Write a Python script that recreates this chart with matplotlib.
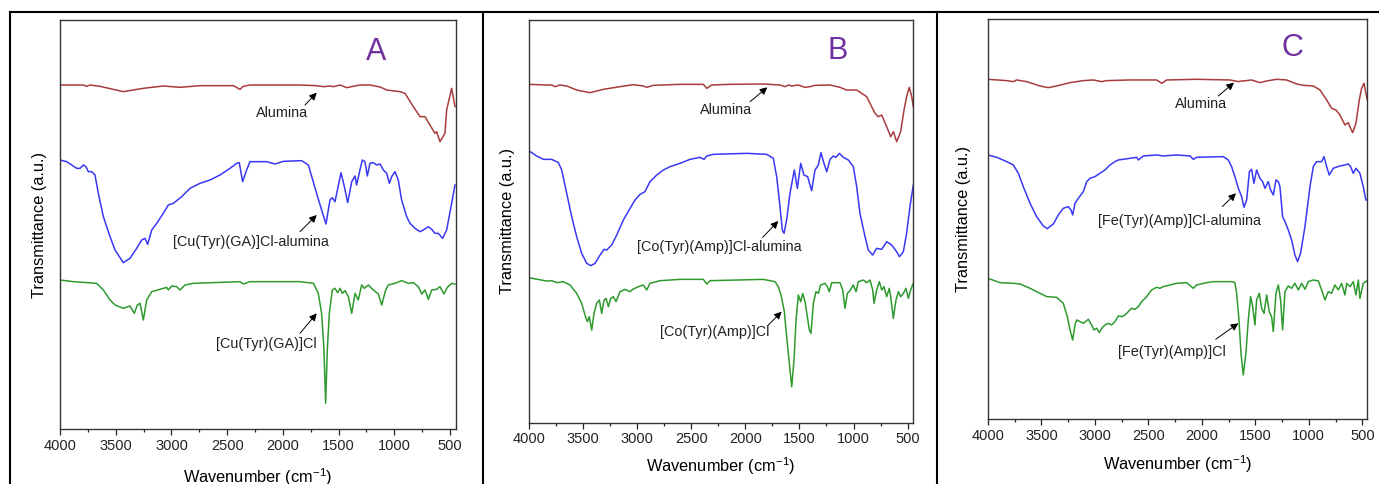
import matplotlib
matplotlib.use("Agg")
import matplotlib.pyplot as plt
from matplotlib.lines import Line2D
from matplotlib.ticker import MultipleLocator

plt.rcParams['font.family'] = ['Liberation Sans', 'DejaVu Sans']
plt.rcParams['mathtext.fontset'] = 'custom'
plt.rcParams['mathtext.rm'] = 'Liberation Sans'
plt.rcParams['mathtext.it'] = 'Liberation Sans:italic'

# ---------------- Panel A ----------------
a_alu_wn = [4000, 3791, 3761, 3731, 3641, 3432, 3252, 3073, 2923, 2744, 2444, 2385, 2355, 2295, 1846,
            1697, 1637, 1577, 1547, 1487, 1427, 1368, 1308, 1218, 1128, 1068, 949, 904, 829, 769,
            724, 680, 635, 620, 590, 545, 530, 485, 455]
a_alu_t = [1032, 1032, 1028, 1032, 1028, 1012, 1022, 1029, 1025, 1030, 1030, 1019, 1028, 1032, 1032,
           1030, 1027, 1029, 1027, 1032, 1024, 1028, 1032, 1032, 1026, 1017, 1012, 1007, 967, 937,
           937, 912, 887, 892, 862, 887, 957, 1022, 967]

a_sup_wn = [4000, 3940, 3850, 3820, 3791, 3767, 3746, 3716, 3686, 3656, 3611, 3551, 3506, 3432, 3372,
            3312, 3267, 3237, 3213, 3177, 3132, 3073, 3028, 2983, 2908, 2833, 2744, 2654, 2564, 2474,
            2415, 2391, 2361, 2325, 2295, 2145, 2070, 1996, 1831, 1771, 1697, 1652, 1613, 1577, 1556,
            1532, 1478, 1448, 1418, 1382, 1352, 1338, 1308, 1287, 1263, 1242, 1218, 1188, 1158, 1128,
            1098, 1068, 1044, 1023, 994, 964, 934, 889, 859, 814, 769, 739, 694, 664, 635,
            605, 566, 530, 485, 455]
a_sup_t = [807, 802, 782, 782, 792, 787, 772, 772, 762, 707, 637, 577, 537, 499, 512,
           542, 567, 572, 554, 597, 617, 647, 672, 677, 697, 722, 737, 747, 762, 782,
           797, 799, 742, 777, 802, 802, 795, 803, 805, 792, 707, 657, 615, 687, 694,
           682, 769, 727, 679, 742, 759, 732, 777, 807, 802, 759, 797, 799, 792, 795,
           777, 767, 737, 757, 772, 747, 687, 637, 617, 602, 592, 597, 607, 599, 587,
           587, 572, 597, 677, 732]

a_cpx_wn = [4000, 3880, 3671, 3611, 3551, 3506, 3432, 3372, 3333, 3306, 3282, 3252, 3222, 3177, 3103,
            3043, 3028, 2998, 2953, 2923, 2878, 2803, 2385, 2355, 2295, 1846, 1726, 1682, 1652, 1631,
            1616, 1601, 1583, 1556, 1532, 1508, 1487, 1466, 1442, 1412, 1382, 1352, 1323, 1293, 1269,
            1233, 1188, 1143, 1113, 1077, 1053, 994, 934, 874, 829, 784, 754, 724, 694, 664,
            620, 590, 554, 524, 485, 455]
a_cpx_t = [447, 442, 437, 417, 387, 372, 362, 369, 347, 372, 377, 327, 387, 412, 419,
           425, 417, 429, 427, 417, 432, 437, 442, 435, 442, 442, 437, 407, 347, 237,
           77, 237, 347, 417, 422, 409, 422, 407, 415, 397, 347, 407, 387, 432, 422,
           432, 417, 405, 372, 417, 432, 437, 445, 437, 439, 427, 405, 417, 389, 417,
           419, 427, 405, 425, 437, 435]

# ---------------- Panel B ----------------
b_alu_wn = [4000, 3834, 3788, 3757, 3711, 3649, 3557, 3434, 3311, 3157, 3034, 2941, 2910, 2849, 2603,
            2387, 2356, 2310, 2141, 1833, 1679, 1633, 1602, 1571, 1510, 1448, 1402, 1356, 1217, 1125,
            1064, 971, 879, 802, 771, 740, 694, 657, 632, 602, 565, 534, 510, 485, 463, 448]
b_alu_t = [1015, 1013, 1013, 1008, 1013, 1010, 998, 990, 1000, 1008, 1014, 1010, 1006, 1012, 1015,
           1015, 1003, 1013, 1015, 1016, 1013, 1008, 1013, 1010, 1013, 1006, 1008, 1012, 1013, 1006,
           998, 998, 978, 928, 918, 923, 888, 858, 873, 843, 873, 938, 978, 1006, 978, 948]

b_sup_wn = [4000, 3926, 3865, 3788, 3726, 3695, 3649, 3603, 3557, 3511, 3464, 3427, 3387, 3341, 3304,
            3280, 3234, 3187, 3126, 3064, 3018, 2972, 2926, 2880, 2818, 2756, 2695, 2603, 2510, 2418,
            2381, 2356, 2295, 1987, 1802, 1741, 1710, 1679, 1658, 1642, 1618, 1587, 1547, 1519, 1488,
            1458, 1424, 1387, 1356, 1325, 1301, 1273, 1248, 1217, 1187, 1162, 1131, 1094, 1048, 1002,
            971, 941, 894, 864, 823, 787, 740, 694, 648, 602, 577, 540, 510, 479, 448]
b_sup_t = [816, 800, 790, 790, 780, 758, 688, 618, 558, 508, 478, 471, 478, 503, 520,
           518, 533, 563, 608, 643, 668, 685, 693, 723, 743, 758, 768, 778, 790, 796,
           790, 800, 805, 808, 805, 793, 738, 648, 578, 568, 608, 688, 758, 703, 778,
           743, 738, 696, 758, 773, 810, 778, 753, 790, 800, 796, 808, 796, 788, 768,
           708, 628, 558, 518, 503, 523, 520, 543, 533, 513, 498, 513, 568, 648, 713]

b_cpx_wn = [4000, 3834, 3788, 3741, 3680, 3618, 3557, 3511, 3480, 3458, 3440, 3418, 3397, 3372, 3347,
            3326, 3304, 3286, 3264, 3243, 3218, 3194, 3157, 3110, 3064, 3040, 2987, 2941, 2910, 2880,
            2787, 2603, 2387, 2356, 2326, 1833, 1725, 1695, 1670, 1639, 1618, 1593, 1571, 1550, 1531,
            1510, 1488, 1470, 1448, 1427, 1408, 1393, 1371, 1347, 1325, 1304, 1264, 1242, 1224, 1202,
            1125, 1100, 1079, 1057, 1033, 1002, 977, 956, 910, 879, 848, 823, 811, 787, 762,
            740, 719, 694, 670, 657, 633, 608, 586, 565, 540, 516, 494, 473, 448]
b_cpx_t = [435, 425, 426, 420, 423, 413, 388, 358, 323, 303, 318, 278, 328, 358, 368,
           328, 368, 373, 348, 373, 378, 363, 393, 400, 393, 400, 408, 413, 398, 418,
           426, 430, 430, 416, 426, 430, 423, 408, 383, 333, 258, 178, 108, 188, 308,
           383, 363, 388, 363, 318, 278, 268, 358, 393, 388, 413, 418, 408, 393, 420,
           420, 398, 343, 388, 396, 413, 393, 423, 428, 420, 428, 398, 358, 398, 423,
           398, 408, 378, 403, 378, 313, 368, 393, 378, 388, 403, 373, 398, 418]

# ---------------- Panel C ----------------
c_alu_wn = [4000, 3825, 3763, 3732, 3638, 3514, 3436, 3358, 3233, 3109, 3015, 2937, 2890, 2672, 2423,
            2376, 2329, 2049, 1737, 1659, 1628, 1581, 1535, 1457, 1394, 1301, 1207, 1114, 1052, 958,
            896, 833, 787, 746, 709, 662, 631, 609, 590, 559, 528, 506, 484, 466, 453]
c_alu_t = [1020, 1016, 1013, 1018, 1013, 1000, 995, 1000, 1010, 1016, 1018, 1013, 1016, 1018, 1018,
           1008, 1018, 1020, 1018, 1013, 1015, 1016, 1018, 1010, 1015, 1020, 1018, 1006, 1002, 1000,
           988, 958, 933, 928, 913, 883, 890, 873, 860, 888, 958, 993, 1008, 978, 958]

c_sup_wn = [4000, 3919, 3825, 3763, 3716, 3670, 3607, 3545, 3483, 3445, 3389, 3342, 3296, 3249, 3224,
            3208, 3187, 3155, 3109, 3077, 3046, 3000, 2953, 2906, 2859, 2813, 2781, 2735, 2672, 2610,
            2594, 2548, 2423, 2361, 2236, 2111, 2080, 2049, 1800, 1753, 1722, 1691, 1659, 1628, 1606,
            1581, 1556, 1535, 1513, 1488, 1457, 1432, 1410, 1379, 1357, 1332, 1307, 1285, 1270, 1245,
            1223, 1192, 1161, 1130, 1105, 1077, 1036, 989, 958, 927, 880, 858, 833, 809, 771,
            709, 662, 631, 609, 584, 559, 522, 491, 466, 453]
c_sup_t = [793, 786, 773, 763, 738, 698, 648, 608, 580, 572, 586, 613, 633, 638, 628,
           613, 648, 663, 683, 713, 723, 728, 738, 748, 763, 773, 778, 780, 783, 786,
           778, 790, 793, 790, 793, 790, 780, 786, 788, 778, 758, 728, 693, 668, 636,
           658, 743, 750, 708, 748, 723, 713, 693, 713, 688, 673, 718, 713, 698, 608,
           593, 568, 538, 493, 473, 498, 578, 698, 758, 773, 773, 788, 758, 733, 753,
           760, 763, 766, 758, 738, 753, 738, 698, 658, 658]

c_cpx_wn = [4000, 3888, 3763, 3701, 3607, 3514, 3451, 3358, 3296, 3258, 3233, 3208, 3187, 3171, 3140,
            3109, 3062, 3031, 3009, 2984, 2959, 2937, 2906, 2875, 2844, 2813, 2781, 2750, 2719, 2688,
            2657, 2626, 2594, 2563, 2516, 2470, 2423, 2392, 2361, 2236, 2142, 2080, 2049, 1955, 1893,
            1800, 1722, 1691, 1675, 1653, 1634, 1613, 1588, 1566, 1544, 1525, 1504, 1488, 1463, 1441,
            1419, 1394, 1370, 1348, 1332, 1307, 1285, 1264, 1245, 1223, 1192, 1161, 1130, 1098, 1067,
            1036, 1005, 958, 911, 880, 849, 818, 787, 756, 724, 693, 662, 646, 615, 584,
            559, 537, 522, 491, 453]
c_cpx_t = [423, 410, 408, 406, 393, 378, 368, 366, 348, 308, 268, 238, 283, 298, 293,
           288, 300, 283, 268, 273, 260, 273, 283, 288, 283, 293, 310, 308, 313, 323,
           333, 330, 338, 353, 368, 388, 396, 393, 398, 408, 410, 393, 403, 410, 413,
           413, 413, 410, 378, 298, 198, 133, 198, 298, 368, 338, 283, 358, 378, 333,
           318, 373, 323, 308, 263, 378, 403, 358, 268, 383, 400, 393, 408, 388, 408,
           390, 413, 418, 415, 388, 358, 383, 378, 403, 388, 408, 373, 408, 398, 413,
           373, 418, 363, 408, 416]

labels_A = ["Alumina", "[Cu(Tyr)(GA)]Cl-alumina", "[Cu(Tyr)(GA)]Cl"]
labels_B = ["Alumina", "[Co(Tyr)(Amp)]Cl-alumina", "[Co(Tyr)(Amp)]Cl"]
labels_C = ["Alumina", "[Fe(Tyr)(Amp)]Cl-alumina", "[Fe(Tyr)(Amp)]Cl"]
panel_letters = ["A", "B", "C"]

RED = '#A83C3C'
BLUE = '#3838F5'
GREEN = '#2E9A2E'
PURPLE = '#7030A0'

W, H = 1380, 484
fig = plt.figure(figsize=(W / 100, H / 100), dpi=100)
fig.patch.set_facecolor('white')


def px_axes(l, t, r, b):
    return [l / W, (H - b) / H, (r - l) / W, (b - t) / H]


panels = [
    dict(rect=px_axes(60, 20, 456, 429), xlim=(4000, 446), ylim=(0, 1227),
         curves=[(a_alu_wn, a_alu_t, RED), (a_sup_wn, a_sup_t, BLUE), (a_cpx_wn, a_cpx_t, GREEN)],
         labels=labels_A,
         texts=[(2011, 948), (2289, 562), (2145, 255)],
         arrows=[((1801, 972), (1696, 1009)), ((1846, 592), (1696, 642)), ((1846, 287), (1696, 347))],
         letter=(1164, 1132), xlpad=9.5, ylpad=9.5),
    dict(rect=px_axes(528.7, 20, 913, 422.7), xlim=(4000, 451), ylim=(0, 1208),
         curves=[(b_alu_wn, b_alu_t, RED), (b_sup_wn, b_sup_t, BLUE), (b_cpx_wn, b_cpx_t, GREEN)],
         labels=labels_B,
         texts=[(2181, 938), (2242, 526), (2286, 271)],
         arrows=[((1956, 963), (1796, 1006)), ((1839, 556), (1695, 605)), ((1787, 293), (1664, 333))],
         letter=(1147, 1115), xlpad=6.5, ylpad=10),
    dict(rect=px_axes(988, 19.3, 1367.3, 419.3), xlim=(4000, 453), ylim=(0, 1200),
         curves=[(c_alu_wn, c_alu_t, RED), (c_sup_wn, c_sup_t, BLUE), (c_cpx_wn, c_cpx_t, GREEN)],
         labels=labels_C,
         texts=[(2012, 945), (2205, 596), (2276, 201)],
         arrows=[((1846, 970), (1700, 1010)), ((1809, 638), (1681, 678)), ((1871, 240), (1659, 288))],
         letter=(1154, 1113), xlpad=7.5, ylpad=12),
]

for p, letter in zip(panels, panel_letters):
    ax = fig.add_axes(p['rect'])
    for wn, t, col in p['curves']:
        ax.plot(wn, t, color=col, lw=1.1)
    ax.set_xlim(*p['xlim'])
    ax.set_ylim(*p['ylim'])
    ax.set_yticks([])
    ax.xaxis.set_major_locator(MultipleLocator(500))
    ax.xaxis.set_minor_locator(MultipleLocator(250))
    ax.tick_params(axis='x', which='major', direction='out', length=4, width=0.9,
                   labelsize=10.5, pad=3, colors='#222222')
    ax.tick_params(axis='x', which='minor', direction='out', length=2.5, width=0.9, colors='#222222')
    for s in ax.spines.values():
        s.set_linewidth(1.0)
        s.set_color('#333333')
    ax.set_xlabel('Wavenumber (cm$\\mathregular{^{-1}}$)', fontsize=11.8, labelpad=p['xlpad'])
    ax.set_ylabel('Transmittance (a.u.)', fontsize=11.8, labelpad=p['ylpad'])
    for (tx, ty), lab in zip(p['texts'], p['labels']):
        ax.text(tx, ty, lab, fontsize=10.4, ha='center', va='center', color='#222222')
    for tail, tip in p['arrows']:
        ax.annotate('', xy=tip, xytext=tail,
                    arrowprops=dict(arrowstyle='-|>', color='black', lw=0.7,
                                    mutation_scale=11, shrinkA=0, shrinkB=0))
    ax.text(p['letter'][0], p['letter'][1], letter, fontsize=22, color=PURPLE,
            ha='center', va='center')

# table-like frame lines
def fline(x0, y0, x1, y1, lw=1.5):
    fig.add_artist(Line2D([x0 / W, x1 / W], [(H - y0) / H, (H - y1) / H],
                          color='black', lw=lw, transform=fig.transFigure))

fline(10, 12, 1378, 12)
fline(10, 12, 10, 484)
fline(483, 12, 483, 484)
fline(937, 12, 937, 484)

fig.savefig('out.png', dpi=100, facecolor='white')
